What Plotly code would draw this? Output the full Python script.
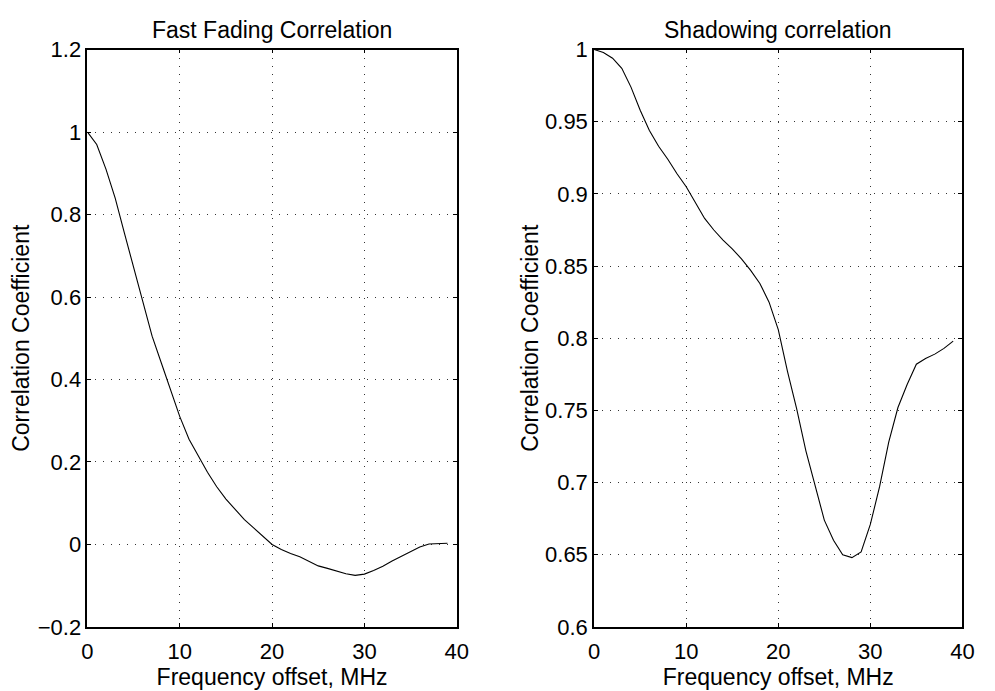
import plotly.graph_objects as go

freq_mhz = list(range(0, 40))

fast_fading = [1.0, 0.97, 0.91, 0.84, 0.755, 0.67, 0.585, 0.505, 0.44, 0.375,
               0.31, 0.255, 0.215, 0.175, 0.14, 0.11, 0.085, 0.06, 0.04, 0.02,
               0.0, -0.012, -0.022, -0.03, -0.042, -0.052, -0.058, -0.064, -0.071, -0.075,
               -0.072, -0.063, -0.053, -0.04, -0.028, -0.017, -0.006, 0.001, 0.002, 0.003]

shadowing = [1.0, 0.998, 0.994, 0.987, 0.974, 0.958, 0.944, 0.933, 0.924, 0.914,
             0.905, 0.894, 0.883, 0.875, 0.868, 0.862, 0.855, 0.847, 0.838, 0.825,
             0.806, 0.777, 0.751, 0.722, 0.697, 0.674, 0.660, 0.650, 0.648, 0.652,
             0.671, 0.697, 0.728, 0.752, 0.768, 0.782, 0.786, 0.789, 0.793, 0.798]

x_ticks = [0, 10, 20, 30, 40]
left_yticks = [-0.2, 0, 0.2, 0.4, 0.6, 0.8, 1, 1.2]
left_ylabels = ["\u22120.2", "0", "0.2", "0.4", "0.6", "0.8", "1", "1.2"]
right_yticks = [0.6, 0.65, 0.7, 0.75, 0.8, 0.85, 0.9, 0.95, 1]
right_ylabels = ["0.6", "0.65", "0.7", "0.75", "0.8", "0.85", "0.9", "0.95", "1"]

titles = ["Fast Fading Correlation", "Shadowing correlation"]
x_title = "Frequency offset, MHz"
y_title = "Correlation Coefficient"

FONT = "Liberation Sans, Arial, Helvetica, sans-serif"

fig = go.Figure()
fig.add_trace(go.Scatter(x=freq_mhz, y=fast_fading, mode="lines",
                         line=dict(color="black", width=1.1),
                         xaxis="x", yaxis="y", showlegend=False))
fig.add_trace(go.Scatter(x=freq_mhz, y=shadowing, mode="lines",
                         line=dict(color="black", width=1.1),
                         xaxis="x2", yaxis="y2", showlegend=False))

ydom = [1 - 638 / 691, 1 - 39 / 691]
xdom1 = [83 / 995, 459 / 995]
xdom2 = [599 / 995, 974 / 995]

common_axis = dict(
    showline=True, linecolor="black", linewidth=1.8, mirror="ticks",
    ticks="inside", ticklen=4, tickcolor="black", tickwidth=1,
    showgrid=True, gridcolor="#333333", gridwidth=1, griddash="1px,7px",
    zeroline=False, tickfont=dict(family=FONT, size=22, color="black"),
)

fig.update_layout(
    width=995, height=691,
    margin=dict(l=0, r=0, t=0, b=0),
    paper_bgcolor="white", plot_bgcolor="white",
    font=dict(family=FONT, color="black"),
    xaxis=dict(domain=xdom1, anchor="y", range=[0, 40], tickvals=x_ticks,
               ticklabelstandoff=4,
               title=dict(text=x_title, font=dict(size=23), standoff=2),
               **common_axis),
    yaxis=dict(domain=ydom, anchor="x", range=[-0.2, 1.2], tickvals=left_yticks,
               ticktext=left_ylabels,
               title=dict(text=y_title, font=dict(size=23), standoff=2),
               **common_axis),
    xaxis2=dict(domain=xdom2, anchor="y2", range=[0, 40], tickvals=x_ticks,
                ticklabelstandoff=4,
                title=dict(text=x_title, font=dict(size=23), standoff=2),
                **common_axis),
    yaxis2=dict(domain=ydom, anchor="x2", range=[0.6, 1.0], tickvals=right_yticks,
                ticktext=right_ylabels,
                title=dict(text=y_title, font=dict(size=23), standoff=0),
                **common_axis),
    annotations=[
        dict(text=titles[0], x=(xdom1[0] + xdom1[1]) / 2, y=1 - 19 / 691,
             xref="paper", yref="paper", showarrow=False,
             font=dict(family=FONT, size=23, color="black"),
             xanchor="center", yanchor="middle"),
        dict(text=titles[1], x=(xdom2[0] + xdom2[1]) / 2, y=1 - 19 / 691,
             xref="paper", yref="paper", showarrow=False,
             font=dict(family=FONT, size=23, color="black"),
             xanchor="center", yanchor="middle"),
    ],
)

fig.write_html("out.html")
